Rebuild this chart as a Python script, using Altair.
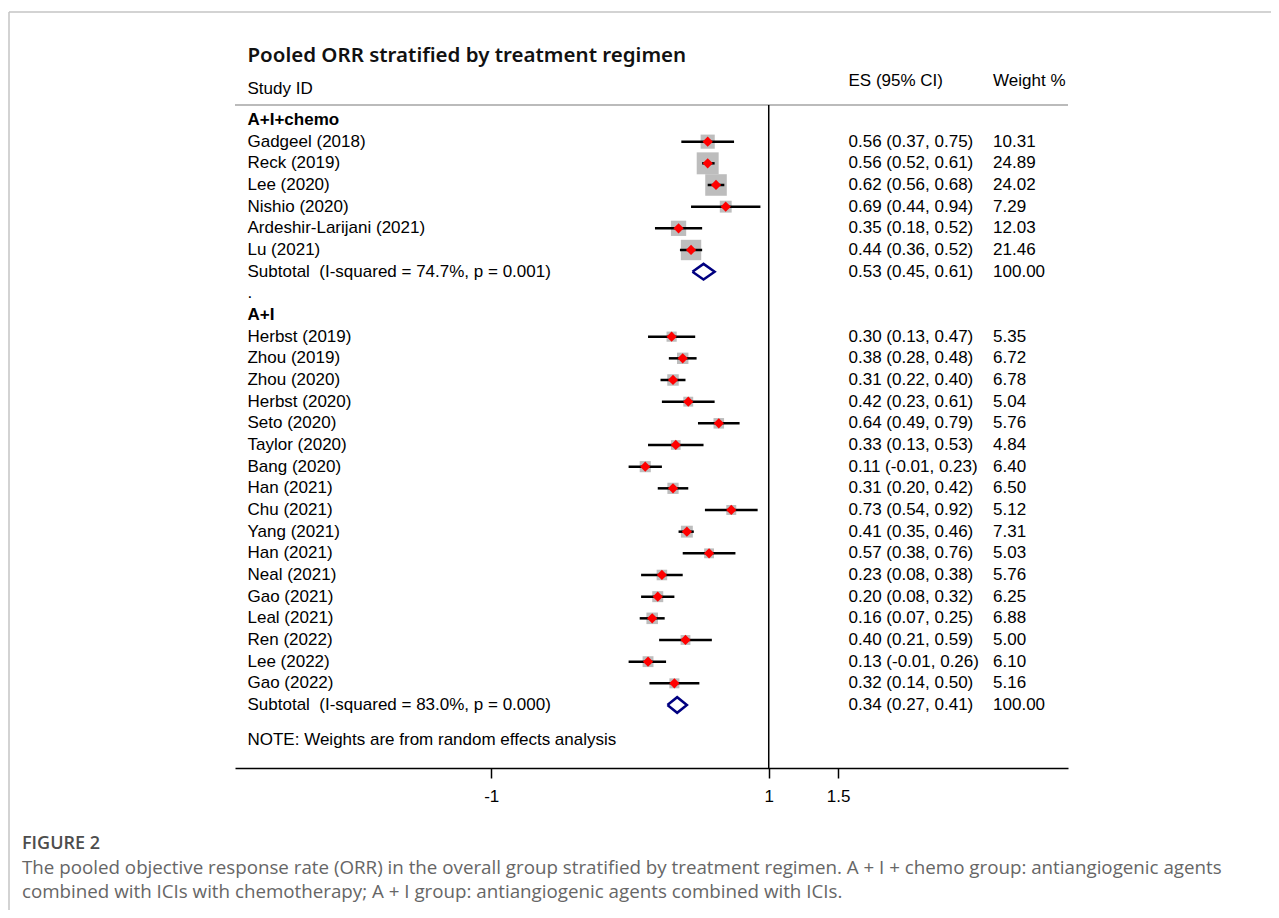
import altair as alt
import pandas as pd

# ---------------- data ----------------
title_text = "Pooled ORR stratified by treatment regimen"
col_study = "Study ID"
col_es = "ES (95% CI)"
col_w = "Weight %"

g1_name = "A+I+chemo"
g1_studies = ["Gadgeel (2018)", "Reck (2019)", "Lee (2020)", "Nishio (2020)",
              "Ardeshir-Larijani (2021)", "Lu (2021)"]
g1_es = [0.56, 0.56, 0.62, 0.69, 0.35, 0.44]
g1_lo = [0.37, 0.52, 0.56, 0.44, 0.18, 0.36]
g1_hi = [0.75, 0.61, 0.68, 0.94, 0.52, 0.52]
g1_w = [10.31, 24.89, 24.02, 7.29, 12.03, 21.46]
g1_sub = [0.53, 0.45, 0.61]
g1_sub_label = "Subtotal \u00a0(I-squared = 74.7%, p = 0.001)"

g2_name = "A+I"
g2_studies = ["Herbst (2019)", "Zhou (2019)", "Zhou (2020)", "Herbst (2020)", "Seto (2020)",
              "Taylor (2020)", "Bang (2020)", "Han (2021)", "Chu (2021)", "Yang (2021)",
              "Han (2021)", "Neal (2021)", "Gao (2021)", "Leal (2021)", "Ren (2022)",
              "Lee (2022)", "Gao (2022)"]
g2_es = [0.30, 0.38, 0.31, 0.42, 0.64, 0.33, 0.11, 0.31, 0.73, 0.41, 0.57, 0.23, 0.20, 0.16, 0.40, 0.13, 0.32]
g2_lo = [0.13, 0.28, 0.22, 0.23, 0.49, 0.13, -0.01, 0.20, 0.54, 0.35, 0.38, 0.08, 0.08, 0.07, 0.21, -0.01, 0.14]
g2_hi = [0.47, 0.48, 0.40, 0.61, 0.79, 0.53, 0.23, 0.42, 0.92, 0.46, 0.76, 0.38, 0.32, 0.25, 0.59, 0.26, 0.50]
g2_w = [5.35, 6.72, 6.78, 5.04, 5.76, 4.84, 6.40, 6.50, 5.12, 7.31, 5.03, 5.76, 6.25, 6.88, 5.00, 6.10, 5.16]
g2_sub = [0.34, 0.27, 0.41]
g2_sub_label = "Subtotal \u00a0(I-squared = 83.0%, p = 0.000)"

note_text = "NOTE: Weights are from random effects analysis"
x_ticks = [-1, 1, 1.5]
null_value = 1

fig_label = "FIGURE 2"
caption1 = ("The pooled objective response rate (ORR) in the overall group stratified by treatment "
            "regimen. A + I + chemo group: antiangiogenic agents")
caption2 = "combined with ICIs with chemotherapy; A + I group: antiangiogenic agents combined with ICIs."

# ---------------- layout constants ----------------
W, H = 833, 663
X_DOMAIN = [-2.847, 3.157]
Y_DOMAIN = [-0.692, 29.908]
X_LABEL, X_ES, X_W = -2.757, 1.575, 2.617
FONT = "Liberation Sans"
FS = 17

# ---------------- build tables ----------------
studies, texts_norm, texts_bold, subs = [], [], [], []
row = 0
for name, st, es, lo, hi, w, sub, sublab in [
    (g1_name, g1_studies, g1_es, g1_lo, g1_hi, g1_w, g1_sub, g1_sub_label),
    (g2_name, g2_studies, g2_es, g2_lo, g2_hi, g2_w, g2_sub, g2_sub_label),
]:
    texts_bold.append({"row": row, "x": X_LABEL, "t": name})
    row += 1
    for s, e, l, h, ww in zip(st, es, lo, hi, w):
        studies.append({"row": row, "es": e, "lo": l, "hi": h, "w": ww})
        texts_norm.append({"row": row, "x": X_LABEL, "t": s})
        texts_norm.append({"row": row, "x": X_ES, "t": f"{e:.2f} ({l:.2f}, {h:.2f})"})
        texts_norm.append({"row": row, "x": X_W, "t": f"{ww:.2f}"})
        row += 1
    e, l, h = sub
    subs.append({"row": row, "es": e, "lo": l, "hi": h})
    texts_norm.append({"row": row, "x": X_LABEL, "t": sublab})
    texts_norm.append({"row": row, "x": X_ES, "t": f"{e:.2f} ({l:.2f}, {h:.2f})"})
    texts_norm.append({"row": row, "x": X_W, "t": "100.00"})
    row += 1
    if name == g1_name:
        texts_norm.append({"row": row, "x": X_LABEL, "t": "."})
        row += 1
texts_norm.append({"row": row + 0.6, "x": X_LABEL, "t": note_text})
texts_norm.append({"row": -1.45, "x": X_LABEL, "t": col_study})
texts_norm.append({"row": -1.78, "x": X_ES, "t": col_es})
texts_norm.append({"row": -1.78, "x": X_W, "t": col_w})

df_st = pd.DataFrame(studies)
df_tn = pd.DataFrame(texts_norm)
df_tb = pd.DataFrame(texts_bold)

dia = []
for i, s in enumerate(subs):
    pts = [(s["lo"], s["row"]), (s["es"], s["row"] - 0.36), (s["hi"], s["row"]),
           (s["es"], s["row"] + 0.36), (s["lo"], s["row"])]
    for k, (xx, yy) in enumerate(pts):
        dia.append({"g": i, "o": k, "x": xx, "row": yy})
df_dia = pd.DataFrame(dia)

# ---------------- scales ----------------
xs = alt.Scale(domain=X_DOMAIN, nice=False, zero=False)
ys = alt.Scale(domain=Y_DOMAIN, reverse=True, nice=False, zero=False)
xaxis = alt.Axis(values=x_ticks, title=None, grid=False, labelExpr="'' + datum.value",
                 tickSize=10, tickWidth=1.5, tickColor="black", domainColor="black",
                 domainWidth=1.5, labelFont=FONT, labelFontSize=FS, labelColor="black",
                 labelPadding=10)


def X(f):
    return alt.X(f, type="quantitative", scale=xs, axis=xaxis)


def Y(f):
    return alt.Y(f, type="quantitative", scale=ys, axis=None)


one = pd.DataFrame({"v": [null_value]})

squares = alt.Chart(df_st).mark_square(filled=True, color="#bdbdbd", opacity=1).encode(
    x=X("es"), y=Y("row"),
    size=alt.Size("w:Q", scale=alt.Scale(domain=[0, 100], range=[0, 1936]), legend=None))
ci = alt.Chart(df_st).mark_rule(color="black", strokeWidth=2.5).encode(
    x=X("lo"), x2="hi", y=Y("row"))
pts = alt.Chart(df_st).mark_point(shape="diamond", filled=True, color="#ff0000",
                                  size=105, opacity=1).encode(x=X("es"), y=Y("row"))
diam = alt.Chart(df_dia).mark_line(color="#000080", strokeWidth=2.5, strokeJoin="miter").encode(
    x=X("x"), y=Y("row"), detail="g:N", order="o:Q")
vline = alt.Chart(one).mark_rule(color="black", strokeWidth=1.5).encode(
    x=X("v"), y=alt.value(0), y2=alt.value(H))
hline = alt.Chart(one).mark_rule(color="#bbbbbb", strokeWidth=2).encode(
    x=alt.value(0), x2=alt.value(W), y=alt.value(0))

txt_n = alt.Chart(df_tn).mark_text(align="left", baseline="middle", font=FONT,
                                   fontSize=FS, color="black").encode(
    x=X("x"), y=Y("row"), text="t:N")
txt_b = alt.Chart(df_tb).mark_text(align="left", baseline="middle", font=FONT,
                                   fontSize=FS, fontWeight="bold", color="black").encode(
    x=X("x"), y=Y("row"), text="t:N")
ttl = alt.Chart(pd.DataFrame({"t": [title_text], "x": [X_LABEL], "row": [-2.95]})).mark_text(
    align="left", baseline="middle", font="Noto Sans", fontSize=20.5, fontWeight=600,
    color="#111111").encode(x=X("x"), y=Y("row"), text="t:N")

# figure frame and caption (page decoration)
frame_top = alt.Chart(one).mark_rule(color="#c4c4c4", strokeWidth=1.5).encode(
    x=alt.value(-226), x2=alt.value(1050), y=alt.value(-93))
frame_left = alt.Chart(one).mark_rule(color="#c4c4c4", strokeWidth=1.5).encode(
    x=alt.value(-226), y=alt.value(-93), y2=alt.value(820))
cap0 = alt.Chart(one).mark_text(align="left", baseline="middle", font="Open Sans",
                                fontSize=18, fontWeight=600, color="#4d4d4d").encode(
    x=alt.value(-213), y=alt.value(739), text=alt.value(fig_label))
cap1 = alt.Chart(one).mark_text(align="left", baseline="middle", font="Open Sans",
                                fontSize=18.75, color="#666666").encode(
    x=alt.value(-213), y=alt.value(763), text=alt.value(caption1))
cap2 = alt.Chart(one).mark_text(align="left", baseline="middle", font="Open Sans",
                                fontSize=18.75, color="#666666").encode(
    x=alt.value(-213), y=alt.value(787), text=alt.value(caption2))

chart = alt.layer(
    frame_top, frame_left, hline, vline, squares, ci, pts, diam, txt_n, txt_b, ttl,
    cap0, cap1, cap2
).properties(
    width=W, height=H,
    autosize=alt.AutoSizeParams(type="none"),
    padding={"left": 227, "top": 97, "right": 203, "bottom": 142},
).configure_view(stroke=None)

chart.save("out.html", embed_options={"renderer": "svg", "actions": False})
